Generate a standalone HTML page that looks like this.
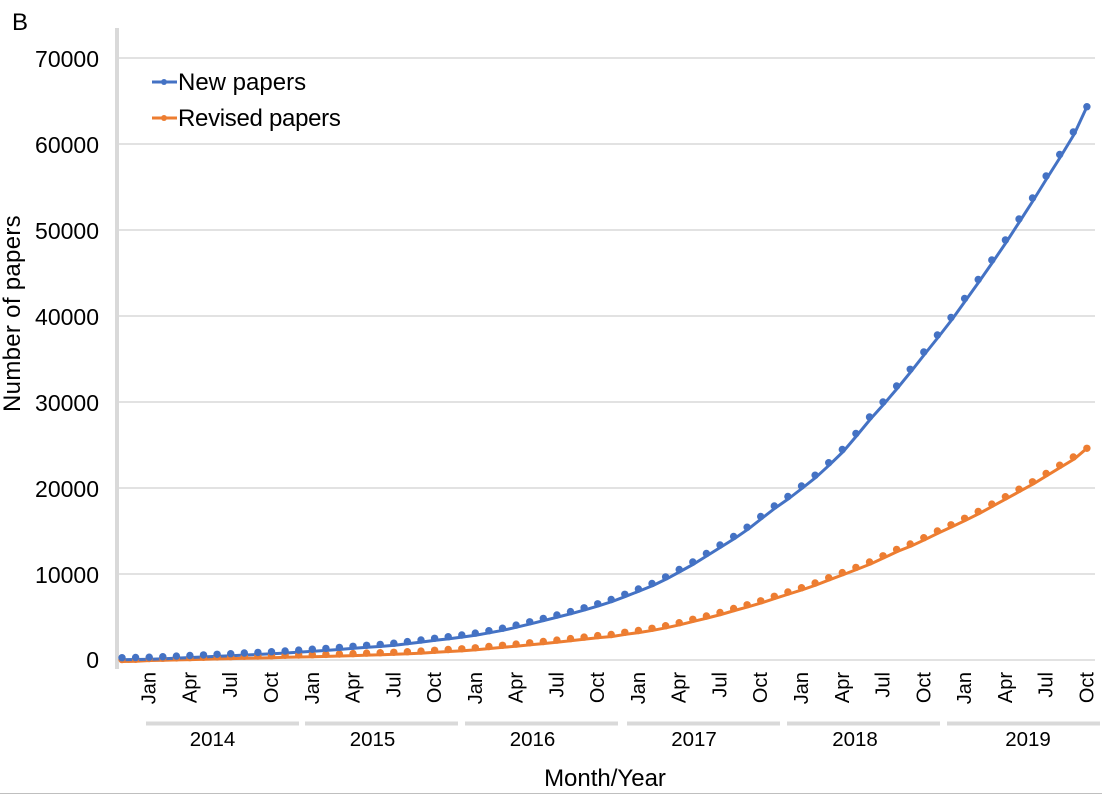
<!DOCTYPE html>
<html>
<head>
<meta charset="utf-8">
<style>
  html,body{margin:0;padding:0;background:#fff;}
  svg{display:block;}
  text{font-family:"Liberation Sans",Arial,sans-serif;fill:#000;}
</style>
</head>
<body>
<svg width="1102" height="794" viewBox="0 0 1102 794" xmlns="http://www.w3.org/2000/svg">
  <defs>
    <marker id="mb" viewBox="0 0 8 8" refX="4" refY="4" markerWidth="8" markerHeight="8" markerUnits="userSpaceOnUse">
      <circle cx="4" cy="4" r="3.7" fill="#4472C4"/>
    </marker>
    <marker id="mo" viewBox="0 0 8 8" refX="4" refY="4" markerWidth="8" markerHeight="8" markerUnits="userSpaceOnUse">
      <circle cx="4" cy="4" r="3.7" fill="#ED7D31"/>
    </marker>
  </defs>

  <!-- panel label -->
  <text x="12" y="30" font-size="24">B</text>

  <!-- gridlines -->
  <g stroke="#d9d9d9" stroke-width="1.4">
    <line x1="119" y1="58" x2="1095" y2="58"/>
    <line x1="119" y1="144" x2="1095" y2="144"/>
    <line x1="119" y1="230" x2="1095" y2="230"/>
    <line x1="119" y1="316" x2="1095" y2="316"/>
    <line x1="119" y1="402" x2="1095" y2="402"/>
    <line x1="119" y1="488" x2="1095" y2="488"/>
    <line x1="119" y1="574" x2="1095" y2="574"/>
    <line x1="119" y1="660" x2="1095" y2="660"/>
  </g>

  <!-- y axis line -->
  <rect x="115" y="28" width="4" height="641" fill="#d9d9d9"/>

  <!-- y tick labels -->
  <g font-size="23" text-anchor="end">
    <text x="99" y="67">70000</text>
    <text x="99" y="153">60000</text>
    <text x="99" y="239">50000</text>
    <text x="99" y="325">40000</text>
    <text x="99" y="411">30000</text>
    <text x="99" y="497">20000</text>
    <text x="99" y="583">10000</text>
    <text x="99" y="668">0</text>
  </g>

  <!-- y axis title -->
  <text transform="translate(20,313.5) rotate(-90)" font-size="24" text-anchor="middle" letter-spacing="0.3">Number of papers</text>

  <!-- series lines -->
  <g fill="none" stroke-width="3" stroke-linejoin="round" stroke-linecap="round" transform="translate(1,2)">
    <polyline stroke="#ED7D31" points="122.0,659.5 135.6,659.3 149.2,658.5 162.8,658.2 176.4,657.9 189.9,657.6 203.5,657.3 217.1,656.9 230.7,656.6 244.3,656.3 257.9,656.0 271.5,655.7 285.1,655.3 298.7,655.0 312.3,654.7 325.9,654.4 339.4,654.0 353.0,653.6 366.6,653.1 380.2,652.7 393.8,652.3 407.4,651.7 421.0,651.1 434.6,650.3 448.2,649.5 461.8,648.8 475.3,647.8 488.9,646.5 502.5,645.3 516.1,644.1 529.7,642.8 543.3,641.5 556.9,640.1 570.5,638.6 584.1,637.1 597.7,635.6 611.2,634.5 624.8,632.3 638.4,630.5 652.0,628.3 665.6,625.7 679.2,622.7 692.8,619.3 706.4,616.0 720.0,612.5 733.6,608.5 747.1,604.8 760.7,600.8 774.3,596.3 787.9,592.0 801.5,587.7 815.1,583.0 828.7,577.7 842.3,572.6 855.9,567.4 869.5,562.0 883.0,555.8 896.6,549.4 910.2,544.0 923.8,537.7 937.4,531.0 951.0,524.8 964.6,518.3 978.2,511.5 991.8,504.1 1005.4,496.7 1019.0,489.2 1032.5,481.8 1046.1,473.5 1059.7,465.2 1073.3,457.0 1085.9,446.3"/>
    <polyline stroke="#4472C4" points="122.0,657.7 135.6,657.5 149.2,657.2 162.8,656.7 176.4,656.1 189.9,655.5 203.5,654.9 217.1,654.3 230.7,653.7 244.3,653.0 257.9,652.4 271.5,651.7 285.1,651.0 298.7,650.1 312.3,649.2 325.9,648.4 339.4,647.4 353.0,646.3 366.6,645.3 380.2,644.4 393.8,643.2 407.4,641.6 421.0,640.0 434.6,638.3 448.2,636.7 461.8,635.0 475.3,633.1 488.9,630.7 502.5,628.2 516.1,625.1 529.7,621.8 543.3,618.4 556.9,615.0 570.5,611.6 584.1,607.8 597.7,603.8 611.2,599.5 624.8,594.3 638.4,589.0 652.0,583.5 665.6,576.9 679.2,569.5 692.8,562.0 706.4,553.5 720.0,545.0 733.6,536.5 747.1,527.2 760.7,516.5 774.3,506.0 787.9,496.5 801.5,486.0 815.1,475.2 828.7,462.7 842.3,449.5 855.9,433.5 869.5,417.0 883.0,402.0 896.6,386.0 910.2,369.3 923.8,352.0 937.4,335.0 951.0,317.5 964.6,298.5 978.2,279.5 991.8,260.0 1005.4,240.0 1019.0,219.0 1032.5,198.0 1046.1,176.0 1059.7,154.5 1073.3,132.0 1085.9,104.7"/>
  </g>

  <!-- series markers -->
  <polyline fill="none" stroke="none" marker-start="url(#mo)" marker-mid="url(#mo)" marker-end="url(#mo)" points="122.0,659.5 135.6,659.3 149.2,658.5 162.8,658.2 176.4,657.9 189.9,657.6 203.5,657.3 217.1,656.9 230.7,656.6 244.3,656.3 257.9,656.0 271.5,655.7 285.1,655.3 298.7,655.0 312.3,654.7 325.9,654.4 339.4,654.0 353.0,653.6 366.6,653.1 380.2,652.7 393.8,652.3 407.4,651.7 421.0,651.1 434.6,650.3 448.2,649.5 461.8,648.8 475.3,647.8 488.9,646.5 502.5,645.3 516.1,644.1 529.7,642.8 543.3,641.5 556.9,640.1 570.5,638.6 584.1,637.1 597.7,635.6 611.2,634.5 624.8,632.3 638.4,630.5 652.0,628.3 665.6,625.7 679.2,622.7 692.8,619.3 706.4,616.0 720.0,612.5 733.6,608.5 747.1,604.8 760.7,600.8 774.3,596.3 787.9,592.0 801.5,587.7 815.1,583.0 828.7,577.7 842.3,572.6 855.9,567.4 869.5,562.0 883.0,555.8 896.6,549.4 910.2,544.0 923.8,537.7 937.4,531.0 951.0,524.8 964.6,518.3 978.2,511.5 991.8,504.1 1005.4,496.7 1019.0,489.2 1032.5,481.8 1046.1,473.5 1059.7,465.2 1073.3,457.0 1086.9,448.3"/>
  <polyline fill="none" stroke="none" marker-start="url(#mb)" marker-mid="url(#mb)" marker-end="url(#mb)" points="122.0,657.7 135.6,657.5 149.2,657.2 162.8,656.7 176.4,656.1 189.9,655.5 203.5,654.9 217.1,654.3 230.7,653.7 244.3,653.0 257.9,652.4 271.5,651.7 285.1,651.0 298.7,650.1 312.3,649.2 325.9,648.4 339.4,647.4 353.0,646.3 366.6,645.3 380.2,644.4 393.8,643.2 407.4,641.6 421.0,640.0 434.6,638.3 448.2,636.7 461.8,635.0 475.3,633.1 488.9,630.7 502.5,628.2 516.1,625.1 529.7,621.8 543.3,618.4 556.9,615.0 570.5,611.6 584.1,607.8 597.7,603.8 611.2,599.5 624.8,594.3 638.4,589.0 652.0,583.5 665.6,576.9 679.2,569.5 692.8,562.0 706.4,553.5 720.0,545.0 733.6,536.5 747.1,527.2 760.7,516.5 774.3,506.0 787.9,496.5 801.5,486.0 815.1,475.2 828.7,462.7 842.3,449.5 855.9,433.5 869.5,417.0 883.0,402.0 896.6,386.0 910.2,369.3 923.8,352.0 937.4,335.0 951.0,317.5 964.6,298.5 978.2,279.5 991.8,260.0 1005.4,240.0 1019.0,219.0 1032.5,198.0 1046.1,176.0 1059.7,154.5 1073.3,132.0 1086.9,106.7"/>

  <!-- legend -->
  <line x1="152" y1="82" x2="177" y2="82" stroke="#4472C4" stroke-width="3"/>
  <circle cx="164" cy="82" r="3" fill="#4472C4"/>
  <text x="178" y="90" font-size="24">New papers</text>
  <line x1="152" y1="118" x2="177" y2="118" stroke="#ED7D31" stroke-width="3"/>
  <circle cx="164" cy="118" r="3" fill="#ED7D31"/>
  <text x="178" y="126" font-size="24" letter-spacing="-0.3">Revised papers</text>

  <!-- month labels -->
  <g font-size="20" text-anchor="end">
    <text transform="translate(155.7,672) rotate(-90)">Jan</text>
    <text transform="translate(196.4,672) rotate(-90)">Apr</text>
    <text transform="translate(237.2,672) rotate(-90)">Jul</text>
    <text transform="translate(278.0,672) rotate(-90)">Oct</text>
    <text transform="translate(318.8,672) rotate(-90)">Jan</text>
    <text transform="translate(359.5,672) rotate(-90)">Apr</text>
    <text transform="translate(400.3,672) rotate(-90)">Jul</text>
    <text transform="translate(441.1,672) rotate(-90)">Oct</text>
    <text transform="translate(481.8,672) rotate(-90)">Jan</text>
    <text transform="translate(522.6,672) rotate(-90)">Apr</text>
    <text transform="translate(563.4,672) rotate(-90)">Jul</text>
    <text transform="translate(604.2,672) rotate(-90)">Oct</text>
    <text transform="translate(644.9,672) rotate(-90)">Jan</text>
    <text transform="translate(685.7,672) rotate(-90)">Apr</text>
    <text transform="translate(726.5,672) rotate(-90)">Jul</text>
    <text transform="translate(767.2,672) rotate(-90)">Oct</text>
    <text transform="translate(808.0,672) rotate(-90)">Jan</text>
    <text transform="translate(848.8,672) rotate(-90)">Apr</text>
    <text transform="translate(889.5,672) rotate(-90)">Jul</text>
    <text transform="translate(930.3,672) rotate(-90)">Oct</text>
    <text transform="translate(971.1,672) rotate(-90)">Jan</text>
    <text transform="translate(1011.9,672) rotate(-90)">Apr</text>
    <text transform="translate(1052.6,672) rotate(-90)">Jul</text>
    <text transform="translate(1093.4,672) rotate(-90)">Oct</text>
  </g>

  <!-- year group bars -->
  <g fill="#d9d9d9">
    <rect x="146" y="721.5" width="153" height="4"/>
    <rect x="305" y="721.5" width="153" height="4"/>
    <rect x="465" y="721.5" width="153" height="4"/>
    <rect x="627" y="721.5" width="153" height="4"/>
    <rect x="787" y="721.5" width="153" height="4"/>
    <rect x="947" y="721.5" width="153" height="4"/>
  </g>

  <!-- year labels -->
  <g font-size="20.5" text-anchor="middle">
    <text x="212.5" y="746">2014</text>
    <text x="372.5" y="746">2015</text>
    <text x="532.5" y="746">2016</text>
    <text x="694" y="746">2017</text>
    <text x="855" y="746">2018</text>
    <text x="1028" y="746">2019</text>
  </g>

  <!-- x axis title -->
  <text x="605" y="786" font-size="24" text-anchor="middle">Month/Year</text>

  <!-- bottom border -->
  <line x1="0" y1="793.5" x2="1102" y2="793.5" stroke="#bfbfbf" stroke-width="1"/>
</svg>
</body>
</html>
